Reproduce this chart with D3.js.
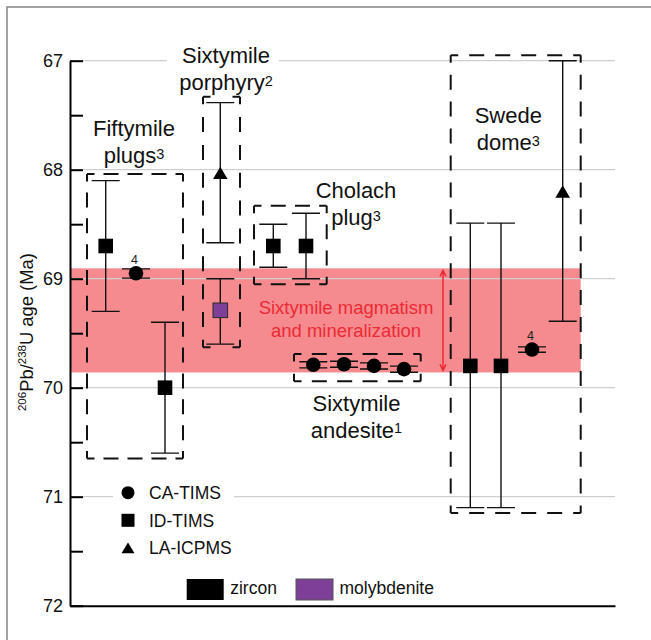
<!DOCTYPE html>
<html><head><meta charset="utf-8">
<script src="https://cdn.jsdelivr.net/npm/d3@7"></script>
<style>
body{margin:0;background:#fff}
svg{display:block}
text{font-family:"Liberation Sans",Arial,Helvetica,sans-serif}
</style>
</head><body>
<svg id="c" width="651" height="640"></svg>
<script>
// ---------- data ----------
const yTickValues = [67, 67.5, 68, 68.5, 69, 69.5, 70, 70.5, 71, 71.5, 72];
const yTickLabels = ["67", "", "68", "", "69", "", "70", "", "71", "", "72"];
const gridAges = [67, 68, 69, 70, 71];

const groupNames = ["Fiftymile plugs", "Sixtymile porphyry", "Cholach plug", "Sixtymile andesite", "Swede dome"];
const groupRef = ["3", "2", "3", "1", "3"];

// sample positions along the (unlabelled) horizontal axis and their ages (Ma)
const pointGroup = [0, 0, 0, 1, 1, 2, 2, 3, 3, 3, 3, 4, 4, 4, 4];
const pointSlot = [35.7, 66, 95, 150.3, 150.3, 203.3, 236, 243.3, 274, 304, 334, 400.3, 431, 462, 492.7];
const pointAge = [68.70, 68.95, 70.00, 68.03, 69.29, 68.70, 68.70, 69.79, 69.785, 69.80, 69.83, 69.80, 69.80, 69.65, 68.20];
const errYoung = [68.10, 68.91, 69.40, 67.385, 69.00, 68.50, 68.40, 69.762, 69.757, 69.772, 69.802, 68.49, 68.49, 69.625, 67.00];
const errOld = [69.30, 68.995, 70.60, 68.67, 69.60, 68.895, 69.00, 69.818, 69.813, 69.828, 69.858, 71.10, 71.10, 69.675, 69.39];
const pointMethod = ["ID-TIMS", "CA-TIMS", "ID-TIMS", "LA-ICPMS", "ID-TIMS", "ID-TIMS", "ID-TIMS",
  "CA-TIMS", "CA-TIMS", "CA-TIMS", "CA-TIMS", "ID-TIMS", "ID-TIMS", "CA-TIMS", "LA-ICPMS"];
const pointMineral = ["zircon", "zircon", "zircon", "zircon", "molybdenite", "zircon", "zircon",
  "zircon", "zircon", "zircon", "zircon", "zircon", "zircon", "zircon", "zircon"];
const pointNote = ["", "4", "", "", "", "", "", "", "", "", "", "", "", "4", ""];

// dashed group boxes (slot range, age range)
const boxSlotMin = [17, 133, 184, 224, 380.7];
const boxSlotMax = [113, 170, 256.7, 350.7, 510.7];
const boxAgeMin = [68.04, 67.33, 68.33, 69.69, 66.95];
const boxAgeMax = [70.65, 69.63, 69.05, 69.94, 71.15];

// magmatism band
const bandAge = [68.905, 69.86];
const bandSlot = [0, 510.7];
const bandLabel = ["Sixtymile magmatism", "and mineralization"];

const methodNames = ["CA-TIMS", "ID-TIMS", "LA-ICPMS"];
const mineralNames = ["zircon", "molybdenite"];

// ---------- style ----------
const mineralColor = {zircon: "#000", molybdenite: "#7e3f98"};
const bandColor = "#f58b8f";
const red = "#ec2a35";

const svg = d3.select("#c");
const x = d3.scaleLinear().domain([0, 545]).range([70, 615]);
const y = d3.scaleLinear().domain([67, 72]).range([60.7, 605.7]);

// outer frame
svg.append("rect").attr("x", 7).attr("y", 7).attr("width", 700).attr("height", 700)
  .attr("fill", "none").attr("stroke", "#8a8a8a").attr("stroke-width", 1.6);

// band
svg.append("rect")
  .attr("x", x(bandSlot[0])).attr("width", x(bandSlot[1]) - x(bandSlot[0]))
  .attr("y", y(bandAge[0])).attr("height", y(bandAge[1]) - y(bandAge[0]))
  .attr("fill", bandColor);

// gridlines
svg.append("g").selectAll("line").data(gridAges).join("line")
  .attr("x1", x(0)).attr("x2", x(545))
  .attr("y1", d => y(d)).attr("y2", d => y(d))
  .attr("stroke", "#cfcfcf").attr("stroke-width", 1.2);

// white backgrounds behind some labels
svg.append("rect").attr("x", 167).attr("y", 38).attr("width", 112).attr("height", 60).attr("fill", "#fff");
svg.append("rect").attr("x", 113).attr("y", 482).attr("width", 121).attr("height", 22).attr("fill", "#fff");

// axes
const yAxis = d3.axisLeft(y).tickValues(yTickValues)
  .tickFormat((d, i) => yTickLabels[i]).tickSizeInner(-13).tickSizeOuter(0).tickPadding(7);
const gy = svg.append("g").attr("transform", `translate(${x(0)},0)`).call(yAxis);
gy.select(".domain").attr("stroke", "#000").attr("stroke-width", 2);
gy.selectAll(".tick line").attr("stroke", "#000").attr("stroke-width", 2);
gy.selectAll(".tick text").attr("font-size", 18).attr("fill", "#111")
  .attr("font-family", "'Liberation Sans',Arial,sans-serif");

const xAxis = d3.axisBottom(x).tickValues([]).tickSizeOuter(0);
const gx = svg.append("g").attr("transform", `translate(0,${y(72)})`).call(xAxis);
gx.select(".domain").attr("stroke", "#000").attr("stroke-width", 2);

// y title
const yt = svg.append("text").attr("transform", `translate(33,${y(69.49)}) rotate(-90)`)
  .attr("text-anchor", "middle").attr("font-size", 17.5).attr("fill", "#111");
const ytParts = [];
ytParts.push(yt.append("tspan").attr("font-size", 11).attr("dy", -7).text("206"));
ytParts.push(yt.append("tspan").attr("dy", 7).text("Pb/"));
ytParts.push(yt.append("tspan").attr("font-size", 11).attr("dy", -7).text("238"));
ytParts.push(yt.append("tspan").attr("dy", 7).text("U age (Ma)"));
{
  const len = yt.node().getComputedTextLength();
  if (len > 0 && Math.abs(len - 158) > 3) {
    const k = 158 / len;
    yt.attr("font-size", 17.5 * k);
    ytParts[0].attr("font-size", 11 * k);
    ytParts[2].attr("font-size", 11 * k);
  }
}

// dashed boxes
function dashedLine(g, x1, y1, x2, y2) {
  const L = Math.hypot(x2 - x1, y2 - y1);
  const d = 15, g0 = 12;
  let n = Math.max(0, Math.round((L - d - g0) / (d + g0)));
  const gap = (L - d - n * d) / (n + 1);
  g.append("line").attr("x1", x1).attr("y1", y1).attr("x2", x2).attr("y2", y2)
    .attr("stroke", "#111").attr("stroke-width", 2)
    .attr("stroke-dasharray", `${d},${gap}`).attr("stroke-dashoffset", d / 2);
}
const gb = svg.append("g");
boxSlotMin.forEach((s, i) => {
  const x0 = x(s), x1 = x(boxSlotMax[i]), y0 = y(boxAgeMin[i]), y1 = y(boxAgeMax[i]);
  dashedLine(gb, x0, y0, x1, y0);
  dashedLine(gb, x1, y0, x1, y1);
  dashedLine(gb, x1, y1, x0, y1);
  dashedLine(gb, x0, y1, x0, y0);
});

// red arrow + label
const ax = x(373), ay0 = y(bandAge[0]) + 2, ay1 = y(bandAge[1]) - 2;
svg.append("path")
  .attr("d", `M${ax},${ay0}V${ay1}M${ax - 3},${ay0 + 6}L${ax},${ay0}L${ax + 3},${ay0 + 6}M${ax - 3},${ay1 - 6}L${ax},${ay1}L${ax + 3},${ay1 - 6}`)
  .attr("fill", "none").attr("stroke", red).attr("stroke-width", 1.5);
svg.append("g").selectAll("text").data(bandLabel).join("text")
  .attr("x", 346).attr("y", (d, i) => 313.5 + i * 23.5)
  .attr("text-anchor", "middle").attr("font-size", 18.5).attr("fill", red).text(d => d);

// error bars
const pts = pointSlot.map((s, i) => ({
  x: x(s), y: y(pointAge[i]), y0: y(errYoung[i]), y1: y(errOld[i]),
  m: pointMethod[i], min: pointMineral[i], note: pointNote[i]
}));
const ge = svg.append("g").attr("stroke", "#111").attr("stroke-width", 1.4).attr("fill", "none");
pts.forEach(p => {
  ge.append("path").attr("d",
    `M${p.x},${p.y0}V${p.y1}M${p.x - 14},${p.y0}H${p.x + 14}M${p.x - 14},${p.y1}H${p.x + 14}`);
});

// markers
function marker(g, m, cx, cy, s, fill, stroke) {
  let el;
  if (m === "CA-TIMS") el = g.append("circle").attr("cx", cx).attr("cy", cy).attr("r", s / 2);
  else if (m === "ID-TIMS") el = g.append("rect").attr("x", cx - s / 2).attr("y", cy - s / 2).attr("width", s).attr("height", s);
  else el = g.append("path").attr("d", `M${cx},${cy - s * 0.42}L${cx + s / 2},${cy + s * 0.42}L${cx - s / 2},${cy + s * 0.42}Z`);
  el.attr("fill", fill);
  if (stroke) el.attr("stroke", stroke).attr("stroke-width", 1);
  return el;
}
const gm = svg.append("g");
pts.forEach(p => {
  marker(gm, p.m, p.x, p.y, 14.6, mineralColor[p.min], p.min === "molybdenite" ? "#2a2a2a" : null);
  if (p.note) gm.append("text").attr("x", p.x - 1.5).attr("y", p.y - 9.5)
    .attr("text-anchor", "middle").attr("font-size", 12.5).attr("fill", "#222").text(p.note);
});

// group labels
const labelLayout = [
  {cx: 134, y: 136, lines: ["Fiftymile", "plugs"]},
  {cx: 226, y: 63.3, lines: ["Sixtymile", "porphyry"]},
  {cx: 356, y: 198.3, lines: ["Cholach", "plug"]},
  {cx: 356.5, y: 410.7, lines: ["Sixtymile", "andesite"]},
  {cx: 508.3, y: 123.3, lines: ["Swede", "dome"]}
];
labelLayout.forEach((L, i) => {
  L.lines.forEach((ln, j) => {
    const t = svg.append("text").attr("x", L.cx).attr("y", L.y + j * 27)
      .attr("text-anchor", "middle").attr("font-size", 22).attr("fill", "#111");
    t.append("tspan").text(ln);
    if (j === 1) t.append("tspan").attr("font-size", 14.5).attr("dy", -4.5).text(groupRef[i]);
  });
});

// method legend
const gl = svg.append("g");
methodNames.forEach((m, i) => {
  const cy = 492.7 + i * 27.6;
  marker(gl, m, 128, cy, 13, "#000", null);
  gl.append("text").attr("x", 149).attr("y", cy + 6.3).attr("font-size", 17.5).attr("fill", "#111").text(m);
});

// mineral legend
const mineralLegendX = [186.7, 296];
mineralNames.forEach((m, i) => {
  gl.append("rect").attr("x", mineralLegendX[i]).attr("y", 579).attr("width", 37).attr("height", 21)
    .attr("fill", mineralColor[m]).attr("stroke", m === "molybdenite" ? "#555" : "none").attr("stroke-width", 1);
  gl.append("text").attr("x", mineralLegendX[i] + 43.5).attr("y", 594).attr("font-size", 17.5)
    .attr("fill", "#111").text(m);
});
</script>
</body></html>
